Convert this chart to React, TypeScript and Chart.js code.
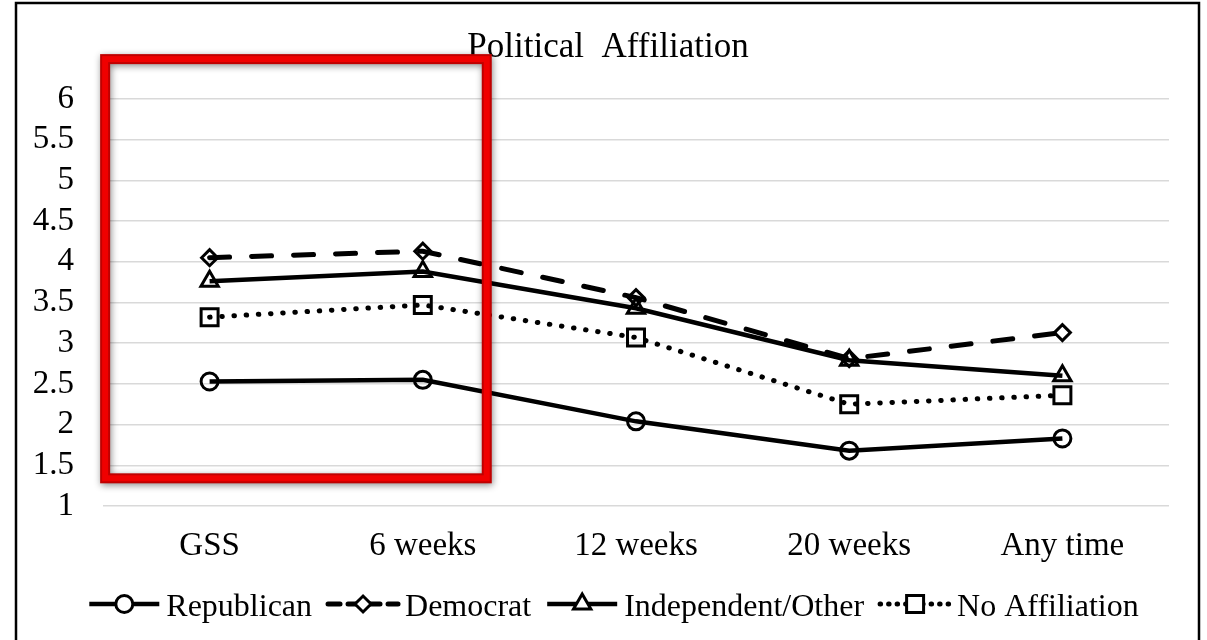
import React, { useEffect, useRef } from "react";
import { Chart, registerables } from "chart.js";

Chart.register(...registerables);

const categories = ["GSS", "6 weeks", "12 weeks", "20 weeks", "Any time"];
const republican = [2.53, 2.55, 2.04, 1.68, 1.83];
const democrat = [4.05, 4.13, 3.56, 2.81, 3.13];
const independent = [3.76, 3.88, 3.43, 2.79, 2.6];
const noAffiliation = [3.32, 3.47, 3.07, 2.25, 2.36];
const yMin = 1;
const yMax = 6;
const yStep = 0.5;
const titleText = "Political  Affiliation";
// highlighted region, in data units (category index range, value range)
const highlightX = [-0.49, 1.3];
const highlightY = [1.34, 6.49];

const FONT = "'Liberation Serif', 'Times New Roman', serif";

const decorPlugin = {
  id: "decor",
  beforeDraw(chart: any) {
    const ctx = chart.ctx;
    ctx.save();
    ctx.fillStyle = "#ffffff";
    ctx.fillRect(0, 0, chart.width, chart.height);
    ctx.restore();
  },
  afterDraw(chart: any) {
    const ctx = chart.ctx;
    const xs = chart.scales.x;
    const ys = chart.scales.y;

    // outer frame (left, top, right)
    ctx.save();
    ctx.strokeStyle = "#000";
    ctx.lineWidth = 2.5;
    ctx.beginPath();
    ctx.moveTo(16, chart.height);
    ctx.lineTo(16, 3);
    ctx.lineTo(1199, 3);
    ctx.lineTo(1199, chart.height);
    ctx.stroke();
    ctx.restore();

    // title, centred in the frame
    ctx.save();
    ctx.font = `35px ${FONT}`;
    ctx.fillStyle = "#000";
    ctx.textAlign = "center";
    ctx.textBaseline = "alphabetic";
    ctx.fillText(titleText, 608, 57);
    ctx.restore();

    // red highlight box
    const x0 = xs.getPixelForValue(highlightX[0]);
    const x1 = xs.getPixelForValue(highlightX[1]);
    const y0 = ys.getPixelForValue(highlightY[1]);
    const y1 = ys.getPixelForValue(highlightY[0]);
    ctx.save();
    ctx.shadowColor = "rgba(0,0,0,0.45)";
    ctx.shadowBlur = 7;
    ctx.shadowOffsetX = 1;
    ctx.shadowOffsetY = 2;
    ctx.strokeStyle = "#c00000";
    ctx.lineWidth = 10;
    ctx.lineJoin = "miter";
    ctx.strokeRect(x0, y0, x1 - x0, y1 - y0);
    ctx.restore();
    ctx.save();
    ctx.strokeStyle = "#f00000";
    ctx.lineWidth = 6;
    ctx.strokeRect(x0, y0, x1 - x0, y1 - y0);
    ctx.restore();

    // legend
    const sampleW = 70;
    const gapST = 7;
    const gapTS = 16;
    ctx.save();
    ctx.font = `32px ${FONT}`;
    const items = chart.data.datasets.map((ds: any) => ({
      ds,
      tw: ctx.measureText(ds.label).width,
    }));
    let total = 0;
    items.forEach((it: any, i: number) => {
      total += sampleW + gapST + it.tw + (i < items.length - 1 ? gapTS : 0);
    });
    let x = 614 - total / 2;
    const lineY = 604;
    const textY = 616;
    items.forEach((it: any) => {
      const ds = it.ds;
      ctx.save();
      ctx.strokeStyle = "#000";
      ctx.lineWidth = ds.borderWidth;
      ctx.lineCap = ds.borderCapStyle || "butt";
      ctx.setLineDash(ds.legendDash || []);
      ctx.beginPath();
      ctx.moveTo(x, lineY);
      ctx.lineTo(x + sampleW, lineY);
      ctx.stroke();
      ctx.restore();
      ctx.save();
      ctx.strokeStyle = "#000";
      ctx.lineWidth = ds.pointBorderWidth;
      ctx.fillStyle = "#fff";
      const cx = x + sampleW / 2;
      const r = ds.pointRadius;
      ctx.beginPath();
      if (ds.pointStyle === "circle") {
        ctx.arc(cx, lineY, r, 0, Math.PI * 2);
      } else if (ds.pointStyle === "rectRot") {
        ctx.moveTo(cx - r, lineY);
        ctx.lineTo(cx, lineY - r);
        ctx.lineTo(cx + r, lineY);
        ctx.lineTo(cx, lineY + r);
        ctx.closePath();
      } else if (ds.pointStyle === "triangle") {
        ctx.moveTo(cx, lineY - r);
        ctx.lineTo(cx + r * 0.866, lineY + r / 2);
        ctx.lineTo(cx - r * 0.866, lineY + r / 2);
        ctx.closePath();
      } else {
        const s = r * Math.SQRT1_2;
        ctx.rect(cx - s, lineY - s, 2 * s, 2 * s);
      }
      ctx.fill();
      ctx.stroke();
      ctx.restore();
      x += sampleW + gapST;
      ctx.fillStyle = "#000";
      ctx.textBaseline = "alphabetic";
      ctx.textAlign = "left";
      ctx.fillText(ds.label, x, textY);
      x += it.tw + gapTS;
    });
    ctx.restore();
  },
};

export default function App() {
  const ref = useRef<HTMLCanvasElement | null>(null);

  useEffect(() => {
    document.body.style.margin = "0";
    const canvas = ref.current;
    if (!canvas) return;
    const common = {
      borderColor: "#000",
      borderWidth: 4.5,
      pointBorderColor: "#000",
      pointBackgroundColor: "rgba(0,0,0,0)",
      pointBorderWidth: 3,
      pointHoverRadius: 8,
      tension: 0,
      fill: false,
    };
    const chart = new Chart(canvas, {
      type: "line",
      data: {
        labels: categories,
        datasets: [
          {
            ...common,
            label: "Republican",
            data: republican,
            pointStyle: "circle",
            pointRadius: 8.5,
          },
          {
            ...common,
            label: "Democrat",
            data: democrat,
            pointStyle: "rectRot",
            pointRadius: 8,
            borderWidth: 5,
            borderDash: [20, 22],
            borderCapStyle: "round",
            legendDash: [12, 8],
          },
          {
            ...common,
            label: "Independent/Other",
            data: independent,
            pointStyle: "triangle",
            pointRadius: 10,
          },
          {
            ...common,
            label: "No Affiliation",
            data: noAffiliation,
            pointStyle: "rect",
            pointRadius: 12,
            borderWidth: 5,
            borderDash: [0.5, 11.7],
            borderCapStyle: "round",
            legendDash: [0.5, 8],
          },
        ] as any,
      },
      options: {
        responsive: false,
        animation: false,
        events: [],
        layout: { padding: { left: 0, right: 38, top: 99, bottom: 74 } },
        plugins: {
          legend: { display: false },
          tooltip: { enabled: false },
          title: { display: false },
        },
        scales: {
          x: {
            offset: true,
            grid: { display: false },
            border: { display: false },
            ticks: {
              color: "#000",
              font: { family: FONT, size: 33 },
              padding: 13,
              maxRotation: 0,
              autoSkip: false,
            },
            afterFit: (s: any) => {
              s.height = 60;
            },
          },
          y: {
            min: yMin,
            max: yMax,
            grid: { color: "#d9d9d9", lineWidth: 1.5, drawTicks: false },
            border: { display: false },
            ticks: {
              stepSize: yStep,
              autoSkip: false,
              color: "#000",
              font: { family: FONT, size: 33 },
              padding: 29,
              callback: (v: any) => String(Number(v)),
            },
            afterFit: (s: any) => {
              s.width = 103;
            },
          },
        },
      } as any,
      plugins: [decorPlugin],
    });
    return () => chart.destroy();
  }, []);

  return (
    <div style={{ width: 1207, height: 640, background: "#fff" }}>
      <canvas ref={ref} width={1207} height={640} style={{ display: "block" }} />
    </div>
  );
}
